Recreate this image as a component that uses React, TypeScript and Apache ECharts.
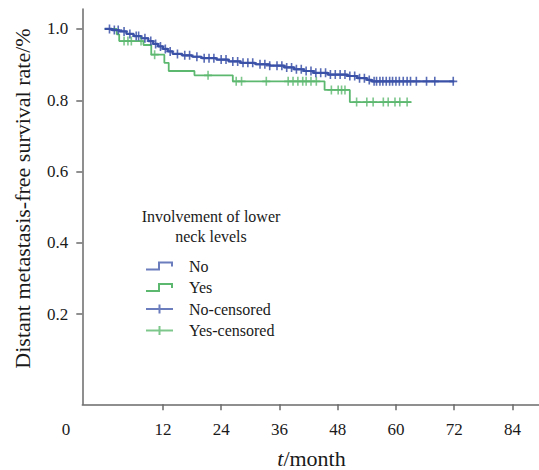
import React, { useEffect, useRef } from "react";
import * as echarts from "echarts";

// Kaplan-Meier step curves (time in months, survival after the drop)
const noTimes = [0, 1.5, 3, 4.5, 6, 7.5, 9, 10, 11, 12, 13, 14, 16, 18, 20, 23, 25.5, 28, 31, 34, 37, 39, 41, 43, 46, 50, 52, 54, 55, 72];
const noSurv = [1.0, 0.997, 0.993, 0.986, 0.98, 0.974, 0.966, 0.958, 0.951, 0.944, 0.937, 0.93, 0.926, 0.922, 0.918, 0.914, 0.909, 0.905, 0.901, 0.897, 0.892, 0.887, 0.882, 0.877, 0.872, 0.868, 0.862, 0.857, 0.853, 0.853];
const yesTimes = [0, 2.5, 3.0, 8.0, 9.6, 12.3, 13.2, 18.5, 26.4, 45.3, 50.5, 63.2];
const yesSurv = [1.0, 0.985, 0.966, 0.955, 0.928, 0.905, 0.882, 0.87, 0.853, 0.829, 0.795, 0.795];

// censoring times
const noCensor = [1, 2, 2.8, 4, 5.2, 6.5, 7, 8.3, 9.5, 10.5, 11.5, 12.5, 13.5, 15, 16.5, 17.5, 19, 20.5, 21.5, 22.5, 24, 25, 26.4, 27.4, 28.5, 29.5, 30.5, 32, 33, 34, 35.5, 36.5, 37.5, 38.5, 39.5, 40.5, 41.5, 42.5, 43.5, 44.5, 45.5, 46.5, 47.5, 48.5, 49.5, 50.5, 51.5, 52.5, 53.5, 54.5, 55.5, 56, 56.7, 57.3, 58, 58.7, 59.3, 60, 60.7, 61.5, 62.3, 63, 64.2, 66.3, 68, 71.8];
const yesCensor = [4, 4.8, 5.5, 7.5, 10.3, 21.3, 27.1, 28.2, 33.3, 37.8, 38.8, 39.8, 40.8, 41.5, 42.5, 43.6, 46.7, 48.1, 48.8, 49.5, 51.9, 54.0, 55.3, 57.4, 58.4, 59.8, 60.8, 62.3];

const xTicks = [12, 24, 36, 48, 60, 72, 84];
const yTicks = [0.2, 0.4, 0.6, 0.8, 1.0];
const seriesNames = ["No", "Yes", "No-censored", "Yes-censored"];
const legendTitle = "Involvement of lower\nneck levels";
const yTitle = "Distant metastasis-free survival rate/%";

const BLUE = "#3b51a8";
const GREEN = "#5cb86f";
const TEXT = "#1a1a1a";
const FONT = "Liberation Serif";

const stepIcon = "path://M0,7 L12,7 L12,0 L27,0 L27,5 L25,5 L25,2 L14,2 L14,9 L0,9 Z";
const plusIcon = "path://M0,3.5 L12.5,3.5 L12.5,0 L14.5,0 L14.5,3.5 L27,3.5 L27,5.5 L14.5,5.5 L14.5,9 L12.5,9 L12.5,5.5 L0,5.5 Z";
const plusMark = "path://M4,0 L6,0 L6,4 L10,4 L10,6 L6,6 L6,10 L4,10 L4,6 L0,6 L0,4 L4,4 Z";

function survAt(times: number[], surv: number[], t: number) {
  let v = surv[0];
  for (let i = 0; i < times.length; i++) {
    if (times[i] <= t) v = surv[i];
  }
  return v;
}

export default function App() {
  const ref = useRef<HTMLDivElement>(null);
  useEffect(() => {
    document.body.style.margin = "0";
    if (!ref.current) return;
    const chart = echarts.init(ref.current, null, { renderer: "svg" });
    const axisLineStyle = { color: "#6a6a6a", width: 1.5 };
    const option = {
      animation: false,
      textStyle: { fontFamily: FONT },
      grid: { left: 82.3, right: 0.3, top: 9, bottom: 65.7 },
      xAxis: {
        type: "value",
        min: -4.6,
        max: 89.4,
        axisLine: { show: true, onZero: false, lineStyle: axisLineStyle },
        axisTick: { show: true, customValues: xTicks, length: 6, lineStyle: axisLineStyle },
        axisLabel: { customValues: xTicks, margin: 17, fontSize: 17, color: TEXT, fontFamily: FONT },
        splitLine: { show: false },
      },
      yAxis: {
        type: "value",
        min: -0.053,
        max: 1.056,
        axisLine: { show: true, onZero: false, lineStyle: axisLineStyle },
        axisTick: { show: true, customValues: yTicks, length: 6, lineStyle: axisLineStyle },
        axisLabel: {
          customValues: yTicks,
          margin: 14,
          fontSize: 17,
          color: TEXT,
          fontFamily: FONT,
          formatter: (v: number) => v.toFixed(1),
        },
        splitLine: { show: false },
      },
      legend: {
        orient: "vertical",
        left: 141,
        top: 253,
        itemWidth: 27,
        itemHeight: 9,
        itemGap: 5.5,
        textStyle: { fontSize: 16, color: TEXT, fontFamily: FONT, padding: [0, 0, 0, 11] },
        data: [
          { name: seriesNames[0], icon: stepIcon, itemStyle: { color: BLUE, borderWidth: 0, opacity: 0.75 } },
          { name: seriesNames[1], icon: stepIcon, itemStyle: { color: GREEN, borderWidth: 0 } },
          { name: seriesNames[2], icon: plusIcon, itemStyle: { color: BLUE, borderWidth: 0, opacity: 0.75 } },
          { name: seriesNames[3], icon: plusIcon, itemStyle: { color: GREEN, borderWidth: 0 } },
        ],
      },
      graphic: [
        {
          type: "text",
          x: 66,
          y: 429,
          style: { text: "0", font: `17px ${FONT}`, fill: TEXT, align: "center", verticalAlign: "middle" },
        },
        {
          type: "text",
          x: 211,
          y: 226,
          style: {
            text: legendTitle,
            font: `16px ${FONT}`,
            fill: TEXT,
            align: "center",
            verticalAlign: "middle",
            lineHeight: 20,
          },
        },
        {
          type: "text",
          x: 22,
          y: 198.5,
          rotation: Math.PI / 2,
          style: { text: yTitle, font: `22px ${FONT}`, fill: TEXT, align: "center", verticalAlign: "middle" },
        },
        {
          type: "text",
          x: 311.5,
          y: 458,
          style: {
            text: "{i|t}{n|/month}",
            align: "center",
            verticalAlign: "middle",
            rich: {
              i: { font: `italic 22px ${FONT}`, fill: TEXT },
              n: { font: `22px ${FONT}`, fill: TEXT },
            },
          },
        },
      ],
      series: [
        {
          name: seriesNames[0],
          type: "line",
          step: "end",
          showSymbol: false,
          z: 3,
          color: BLUE,
          lineStyle: { width: 2.2, color: BLUE },
          data: noTimes.map((t, i) => [t, noSurv[i]]),
        },
        {
          name: seriesNames[1],
          type: "line",
          step: "end",
          showSymbol: false,
          z: 2,
          color: GREEN,
          lineStyle: { width: 1.8, color: GREEN },
          data: yesTimes.map((t, i) => [t, yesSurv[i]]),
        },
        {
          name: seriesNames[2],
          type: "scatter",
          symbol: plusMark,
          symbolSize: [8, 9],
          z: 5,
          color: BLUE,
          itemStyle: { color: BLUE, opacity: 0.85 },
          data: noCensor.map((t) => [t, survAt(noTimes, noSurv, t)]),
        },
        {
          name: seriesNames[3],
          type: "scatter",
          symbol: plusMark,
          symbolSize: [8, 9],
          z: 4,
          color: GREEN,
          itemStyle: { color: GREEN },
          data: yesCensor.map((t) => [t, survAt(yesTimes, yesSurv, t)]),
        },
      ],
    };
    chart.setOption(option as any);
    return () => chart.dispose();
  }, []);
  return <div ref={ref} style={{ width: 539, height: 470 }} />;
}
